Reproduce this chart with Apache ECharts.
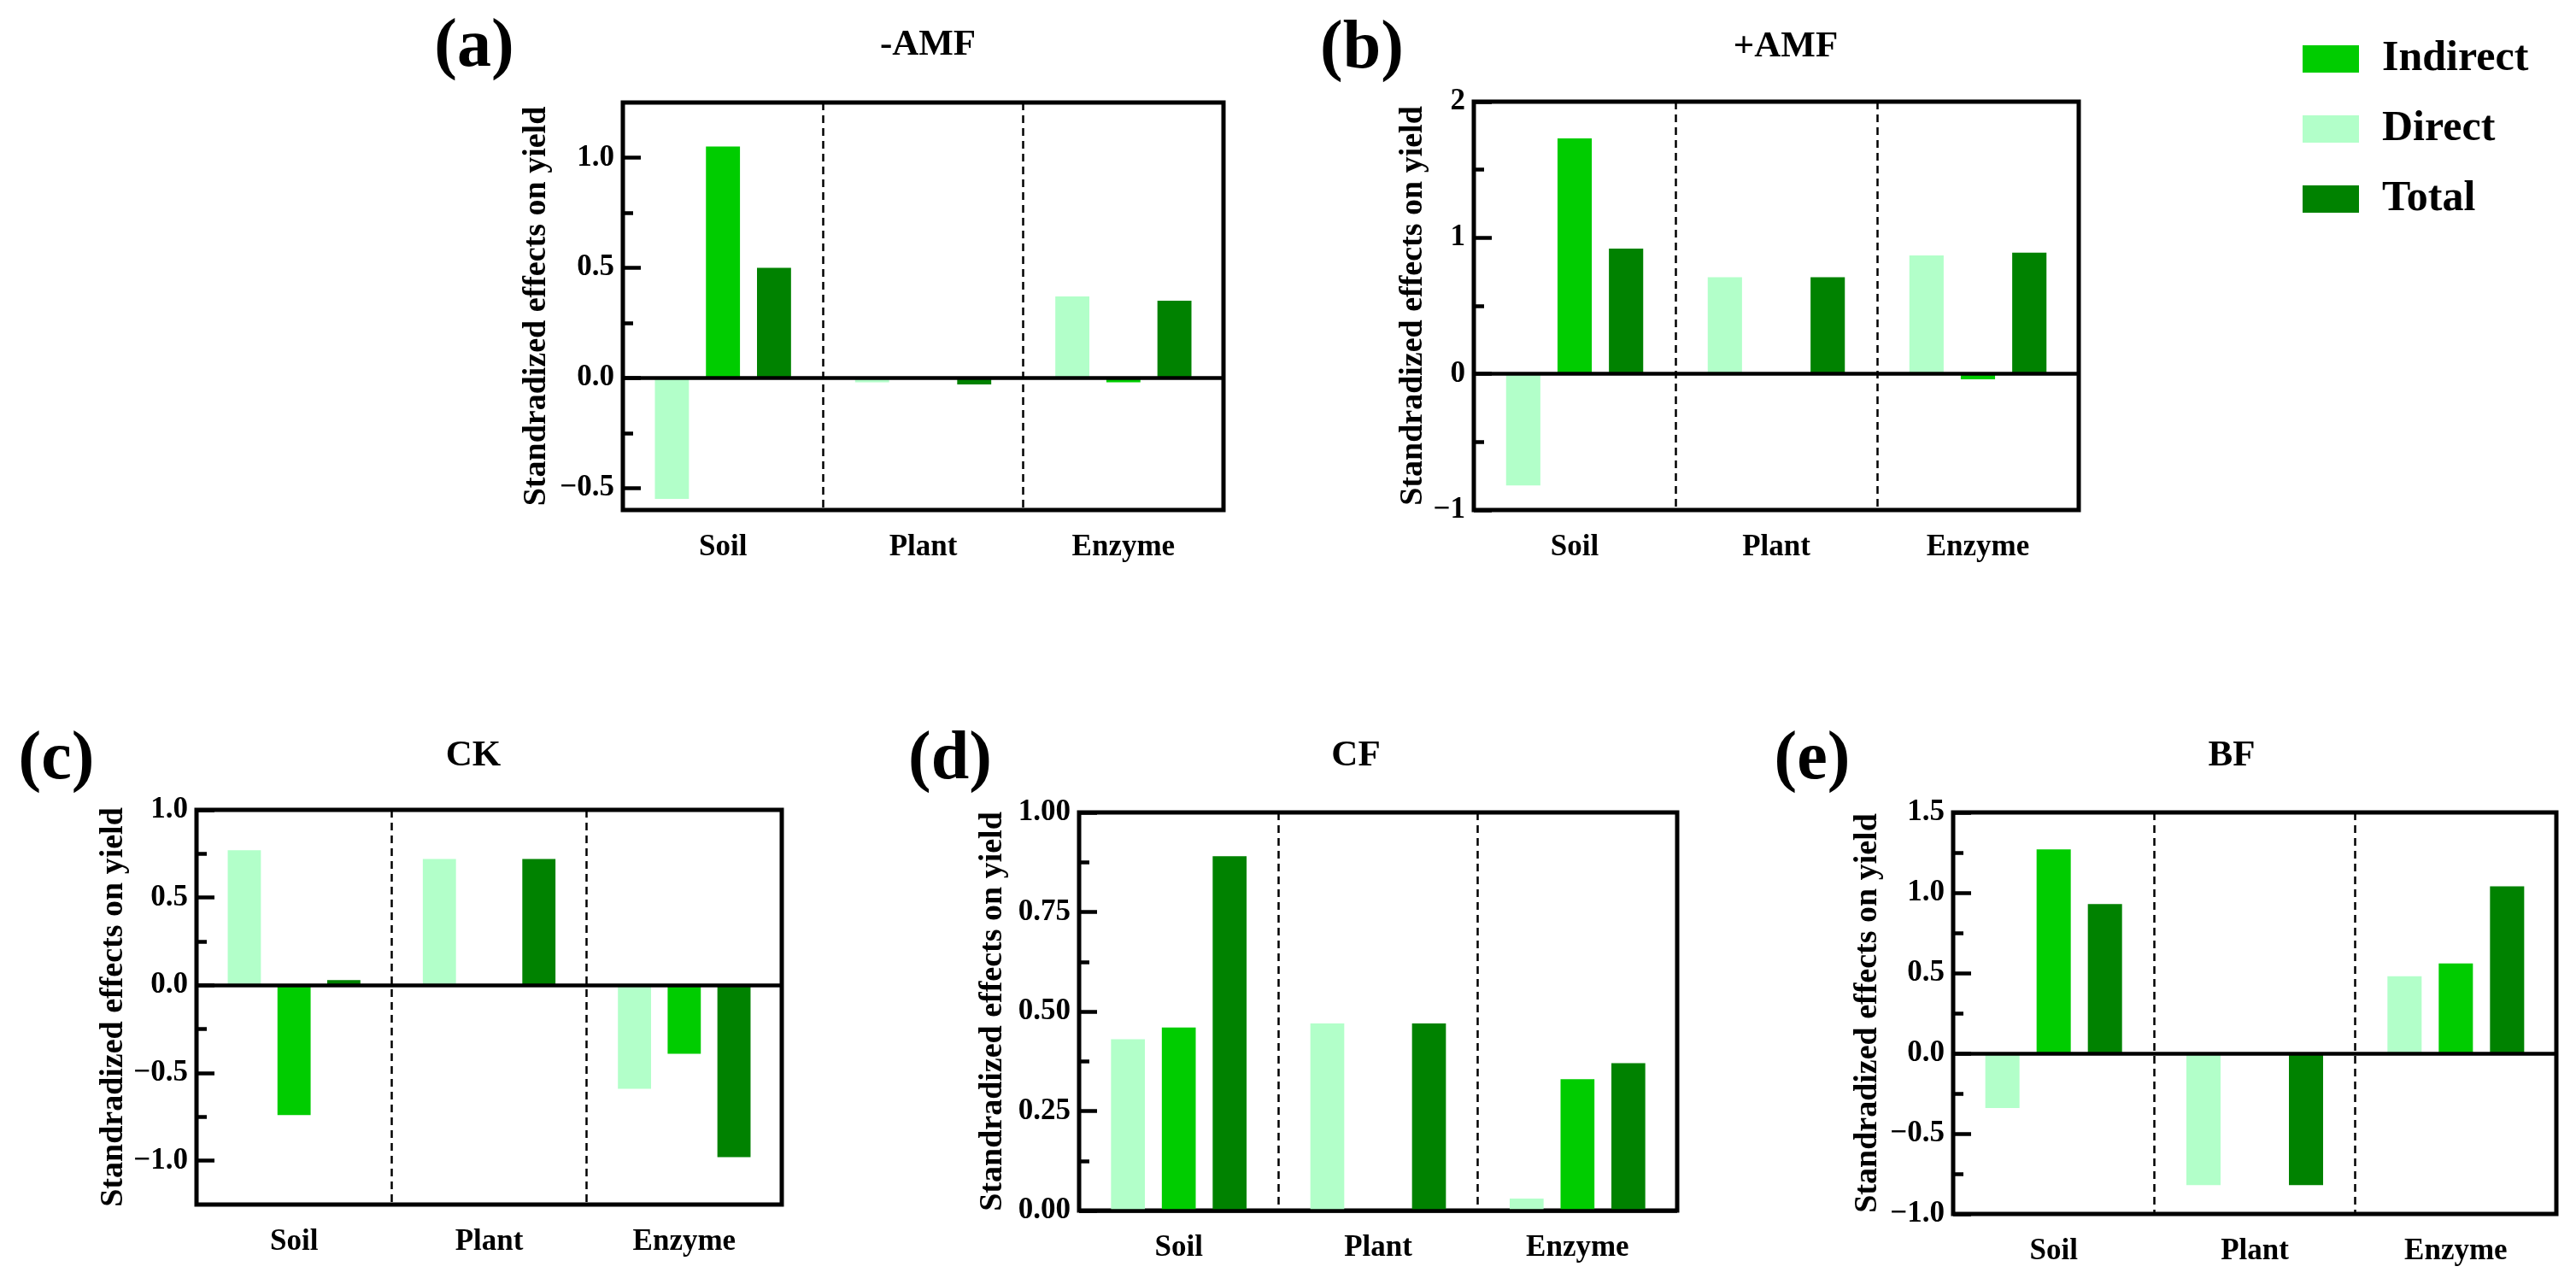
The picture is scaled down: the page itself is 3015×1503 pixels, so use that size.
<!DOCTYPE html>
<html>
<head>
<meta charset="utf-8">
<script src="https://cdn.jsdelivr.net/npm/echarts@6/dist/echarts.min.js"></script>
<style>html,body{margin:0;padding:0;background:#fff}#c{width:3015px;height:1503px}</style>
</head>
<body>
<div id="c"></div>
<script>
const categories = ['Soil', 'Plant', 'Enzyme'];
const seriesNames = ['Direct', 'Indirect', 'Total'];
const legendOrder = ['Indirect', 'Direct', 'Total'];
const colors = { Direct: '#B2FFC9', Indirect: '#00CC00', Total: '#008200' };

const panelLetters = ['(a)', '(b)', '(c)', '(d)', '(e)'];
const panelTitles = ['-AMF', '+AMF', 'CK', 'CF', 'BF'];
const yName = 'Standradized effects on yield';

// values per panel: [Soil, Plant, Enzyme]
const directA = [-0.55, -0.02, 0.37];
const indirectA = [1.05, 0, -0.02];
const totalA = [0.50, -0.03, 0.35];

const directB = [-0.82, 0.71, 0.87];
const indirectB = [1.73, 0, -0.04];
const totalB = [0.92, 0.71, 0.89];

const directC = [0.77, 0.72, -0.59];
const indirectC = [-0.74, 0, -0.39];
const totalC = [0.03, 0.72, -0.98];

const directD = [0.43, 0.47, 0.03];
const indirectD = [0.46, 0, 0.33];
const totalD = [0.89, 0.47, 0.37];

const directE = [-0.34, -0.82, 0.48];
const indirectE = [1.27, 0, 0.56];
const totalE = [0.93, -0.82, 1.04];

// y axis ranges and ticks
const yRanges = [[-0.6, 1.25], [-1, 2], [-1.25, 1.0], [0, 1], [-1, 1.5]];
const majorTicksA = [-0.5, 0, 0.5, 1.0];
const majorTicksB = [-1, 0, 1, 2];
const majorTicksC = [-1.0, -0.5, 0, 0.5, 1.0];
const majorTicksD = [0, 0.25, 0.5, 0.75, 1.0];
const majorTicksE = [-1.0, -0.5, 0, 0.5, 1.0, 1.5];
const minorTicksA = [-0.25, 0.25, 0.75];
const minorTicksB = [-0.5, 0.5, 1.5];
const minorTicksC = [-0.75, -0.25, 0.25, 0.75];
const minorTicksD = [0.125, 0.375, 0.625, 0.875];
const minorTicksE = [-0.75, -0.25, 0.25, 0.75, 1.25];
const tickDecimals = [1, 0, 1, 2, 1];

const panelData = [
  [directA, indirectA, totalA],
  [directB, indirectB, totalB],
  [directC, indirectC, totalC],
  [directD, indirectD, totalD],
  [directE, indirectE, totalE]
];
const majorTicks = [majorTicksA, majorTicksB, majorTicksC, majorTicksD, majorTicksE];
const minorTicks = [minorTicksA, minorTicksB, minorTicksC, minorTicksD, minorTicksE];

// layout (pixels)
const grids = [
  { left: 729, top: 120, width: 703, height: 477 },
  { left: 1725, top: 119, width: 708, height: 478 },
  { left: 230, top: 948, width: 685, height: 462 },
  { left: 1263, top: 951, width: 700, height: 466 },
  { left: 2286, top: 951, width: 706, height: 470 }
];
const nameGaps = [82, 49, 75, 82, 81];
const letterPos = [[550, 55], [1589, 57], [61, 889], [1107, 889], [2116, 889]];
const titlePos = [[1081, 50], [2085, 52], [549, 882], [1582, 882], [2607, 882]];

const FONT = 'Liberation Serif';
const fmt = d => v => (v < 0 ? '\u2212' : '') + Math.abs(v).toFixed(d);

const option = {
  animation: false,
  backgroundColor: '#fff',
  textStyle: { fontFamily: FONT, fontWeight: 'bold', color: '#000' },
  title: [],
  legend: {
    data: legendOrder,
    orient: 'vertical',
    left: 2690, top: 39,
    itemWidth: 66, itemHeight: 32, itemGap: 32,
    icon: 'rect',
    textStyle: { fontFamily: FONT, fontWeight: 'bold', fontSize: 50, color: '#000', padding: [0, 0, 0, 22] },
    selectedMode: false
  },
  grid: [], xAxis: [], yAxis: [], series: []
};

grids.forEach((g, i) => {
  option.grid.push(Object.assign({ show: true, borderColor: '#000', borderWidth: 5, backgroundColor: 'transparent' }, g));
  option.title.push({
    text: panelLetters[i], left: letterPos[i][0], top: letterPos[i][1] - 44, textAlign: 'center',
    textStyle: { fontFamily: FONT, fontWeight: 'bold', fontSize: 80, color: '#000' }
  });
  option.title.push({
    text: panelTitles[i], left: titlePos[i][0], top: titlePos[i][1] - 24, textAlign: 'center',
    textStyle: { fontFamily: FONT, fontWeight: 'bold', fontSize: 43, color: '#000' }
  });
  option.xAxis.push({
    type: 'category', gridIndex: i, data: categories, position: 'bottom',
    axisLine: { show: false, onZero: false }, axisTick: { show: false },
    axisLabel: { interval: 0, fontFamily: FONT, fontWeight: 'bold', fontSize: 35, color: '#000', margin: 26 },
    splitLine: { show: true, interval: 0, lineStyle: { color: '#000', width: 2.5, type: [9, 6] } }
  });
  const [mn, mx] = yRanges[i];
  option.yAxis.push({
    type: 'value', gridIndex: i, min: mn, max: mx,
    axisLine: { show: false },
    axisTick: { show: true, inside: true, length: 21, customValues: majorTicks[i], lineStyle: { color: '#000', width: 4.5 } },
    axisLabel: { customValues: majorTicks[i], formatter: fmt(tickDecimals[i]), fontFamily: FONT, fontWeight: 'bold', fontSize: 35, color: '#000', margin: 10, showMinLabel: true, showMaxLabel: true },
    splitLine: { show: false },
    name: yName, nameLocation: 'middle', nameRotate: 90, nameGap: nameGaps[i],
    nameTextStyle: { fontFamily: FONT, fontWeight: 'bold', fontSize: 38, color: '#000' }
  });
  option.yAxis.push({
    type: 'value', gridIndex: i, min: mn, max: mx, position: 'left',
    axisLine: { show: false },
    axisTick: { show: true, inside: true, length: 12, customValues: minorTicks[i], lineStyle: { color: '#000', width: 4.5 } },
    axisLabel: { show: false, customValues: minorTicks[i] },
    splitLine: { show: false }
  });
  seriesNames.forEach((name, k) => {
    const s = {
      type: 'bar', name: name, xAxisIndex: i, yAxisIndex: i * 2,
      data: panelData[i][k], barWidth: '17%', barGap: '50%',
      itemStyle: { color: colors[name] }, silent: true
    };
    if (k === 0) {
      s.markLine = {
        silent: true, symbol: 'none', label: { show: false },
        lineStyle: { color: '#000', width: 4.5, type: 'solid' },
        data: [{ yAxis: 0 }]
      };
    }
    option.series.push(s);
  });
});

const chart = echarts.init(document.getElementById('c'), null, { renderer: 'canvas' });
chart.setOption(option);
</script>
</body>
</html>
